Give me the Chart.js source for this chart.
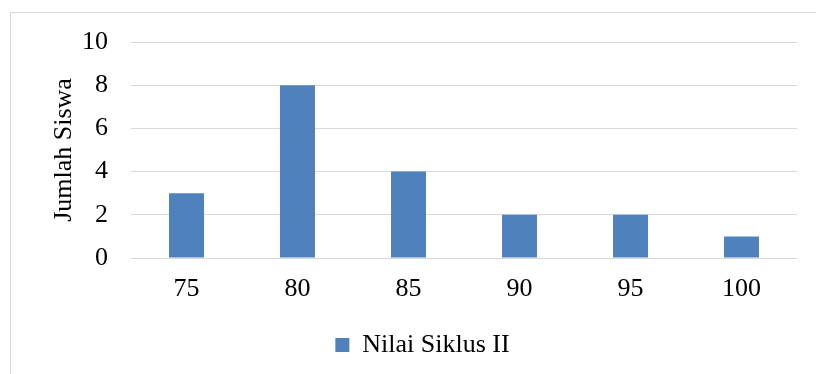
<!DOCTYPE html>
<html>
<head>
<meta charset="utf-8">
<script src="https://cdn.jsdelivr.net/npm/chart.js@4/dist/chart.umd.min.js"></script>
<style>
  html, body { margin: 0; padding: 0; background: #ffffff; }
  #wrap { width: 816px; height: 374px; position: relative; }
</style>
</head>
<body>
<div id="wrap"><canvas id="chart" width="816" height="374"></canvas></div>
<script>
// Nilai (score) categories and number of students per score
const categories = ['75', '80', '85', '90', '95', '100'];
const jumlahSiswa = [3, 8, 4, 2, 2, 1];
const seriesName = 'Nilai Siklus II';
const yTicks = [0, 2, 4, 6, 8, 10];

const FONT = "'Liberation Serif', 'Times New Roman', serif";
const FONT_SIZE = 26;

// thin frame around the whole chart
const framePlugin = {
  id: 'frame',
  beforeDraw(chart) {
    const ctx = chart.ctx;
    ctx.save();
    ctx.fillStyle = '#ffffff';
    ctx.fillRect(0, 0, chart.width, chart.height);
    ctx.strokeStyle = '#d9d9d9';
    ctx.lineWidth = 1;
    ctx.strokeRect(10.5, 12.5, 1000, 1000);
    ctx.restore();
  }
};

new Chart(document.getElementById('chart'), {
  type: 'bar',
  data: {
    labels: categories,
    datasets: [{
      label: seriesName,
      data: jumlahSiswa,
      backgroundColor: '#4f81bd',
      borderWidth: 0,
      categoryPercentage: 1.0,
      barPercentage: 0.315
    }]
  },
  options: {
    responsive: false,
    animation: false,
    devicePixelRatio: 1,
    layout: { padding: { left: 48, right: 19, top: 42, bottom: 6 } },
    plugins: {
      tooltip: { enabled: false },
      legend: {
        position: 'bottom',
        labels: {
          font: { family: FONT, size: FONT_SIZE },
          color: '#000000',
          boxWidth: 14,
          boxHeight: 14,
          padding: 10
        }
      }
    },
    scales: {
      x: {
        grid: { display: false, drawTicks: false },
        border: { display: false },
        ticks: {
          font: { family: FONT, size: FONT_SIZE },
          color: '#000000',
          padding: 16
        },
        afterFit(scale) { scale.height = 64; }
      },
      y: {
        min: 0,
        max: 10,
        afterBuildTicks(scale) { scale.ticks = yTicks.map(v => ({ value: v })); },
        grid: { color: '#d9d9d9', lineWidth: 1, drawTicks: false },
        border: { display: false },
        ticks: {
          font: { family: FONT, size: FONT_SIZE },
          color: '#000000',
          padding: 23
        },
        title: {
          display: true,
          text: 'Jumlah Siswa',
          font: { family: FONT, size: FONT_SIZE },
          color: '#000000',
          padding: { top: 1, bottom: 0 }
        },
        afterFit(scale) { scale.width = 83; }
      }
    }
  },
  plugins: [framePlugin]
});
</script>
</body>
</html>
